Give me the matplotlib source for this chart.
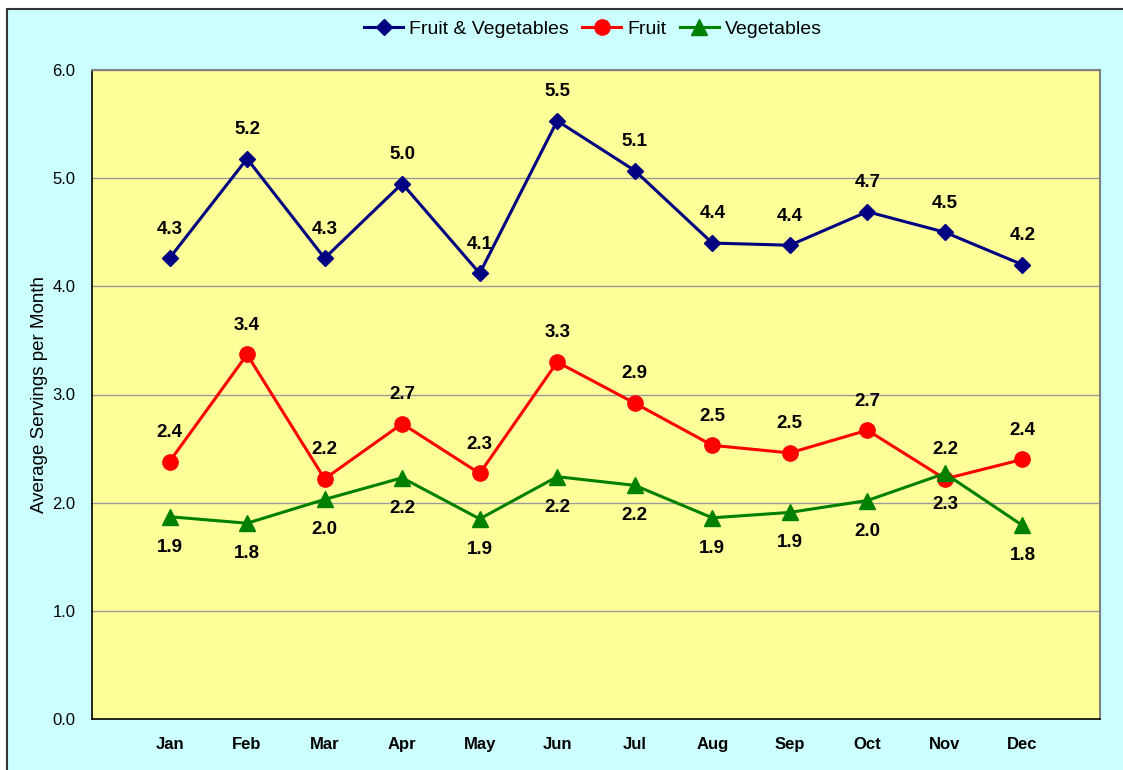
import matplotlib.pyplot as plt
from matplotlib.patches import Rectangle

months = ['Jan', 'Feb', 'Mar', 'Apr', 'May', 'Jun', 'Jul', 'Aug', 'Sep', 'Oct', 'Nov', 'Dec']
fruit_veg = [4.26, 5.18, 4.26, 4.95, 4.12, 5.53, 5.07, 4.40, 4.38, 4.69, 4.50, 4.20]
fruit = [2.38, 3.37, 2.22, 2.73, 2.27, 3.30, 2.92, 2.53, 2.46, 2.67, 2.22, 2.40]
veg = [1.87, 1.81, 2.03, 2.23, 1.85, 2.24, 2.16, 1.86, 1.91, 2.02, 2.27, 1.79]
yticks = [0.0, 1.0, 2.0, 3.0, 4.0, 5.0, 6.0]

plt.rcParams['font.family'] = ['Liberation Sans', 'DejaVu Sans']

fig = plt.figure(figsize=(11.23, 7.70), dpi=100)
fig.patch.set_facecolor('white')
# chart area (cyan), cut off at right and bottom
fig.patches.append(Rectangle((7 / 1123, -0.05), 1.2, 1 - 9 / 770 + 0.05, transform=fig.transFigure,
                             facecolor='#CCFFFF', edgecolor='#333333', linewidth=1.5, zorder=-5))

ax = fig.add_axes([92 / 1123, 1 - 719 / 770, (1100 - 92) / 1123, (719 - 70) / 770])
ax.set_facecolor('#FFFF99')
x = list(range(len(months)))

ax.plot(x, fruit_veg, color='#000080', marker='D', markersize=8, linewidth=2.2, label='Fruit & Vegetables', zorder=3)
ax.plot(x, fruit, color='#FF0000', marker='o', markersize=11, linewidth=2.2, label='Fruit', zorder=3)
ax.plot(x, veg, color='#008000', marker='^', markersize=11, linewidth=2.2, label='Vegetables', zorder=3)

for xi, v in zip(x, fruit_veg):
    ax.annotate('%.1f' % v, (xi, v), xytext=(0, 21), textcoords='offset points',
                ha='center', va='center', fontsize=13.5, fontweight='bold')
for xi, v in zip(x, fruit):
    ax.annotate('%.1f' % v, (xi, v), xytext=(0, 21), textcoords='offset points',
                ha='center', va='center', fontsize=13.5, fontweight='bold')
for xi, v in zip(x, veg):
    ax.annotate('%.1f' % v, (xi, v), xytext=(0, -22), textcoords='offset points',
                ha='center', va='center', fontsize=13.5, fontweight='bold')

ax.set_xlim(-1, 12)
ax.set_ylim(0, 6)
ax.set_yticks(yticks)
ax.set_yticklabels(['%.1f' % t for t in yticks], fontsize=12)
ax.set_xticks(x)
ax.set_xticklabels(months, fontsize=12, fontweight='bold')
ax.tick_params(axis='x', length=0, pad=13)
ax.tick_params(axis='y', length=0, pad=12)
ax.yaxis.grid(True, color='#999999', linewidth=1)
ax.set_axisbelow(True)
ax.set_ylabel('Average Servings per Month', fontsize=13.5, labelpad=3)

for side in ['left', 'bottom']:
    ax.spines[side].set_color('black')
    ax.spines[side].set_linewidth(1.2)
for side in ['top', 'right']:
    ax.spines[side].set_color('#808080')
    ax.spines[side].set_linewidth(1.5)

fig.legend(loc='center', bbox_to_anchor=(0.528, 1 - 29 / 770), ncol=3, frameon=False,
           fontsize=14, handlelength=2.0, handletextpad=0.3, columnspacing=0.7)

plt.savefig('out.png', dpi=100, facecolor=fig.get_facecolor())
